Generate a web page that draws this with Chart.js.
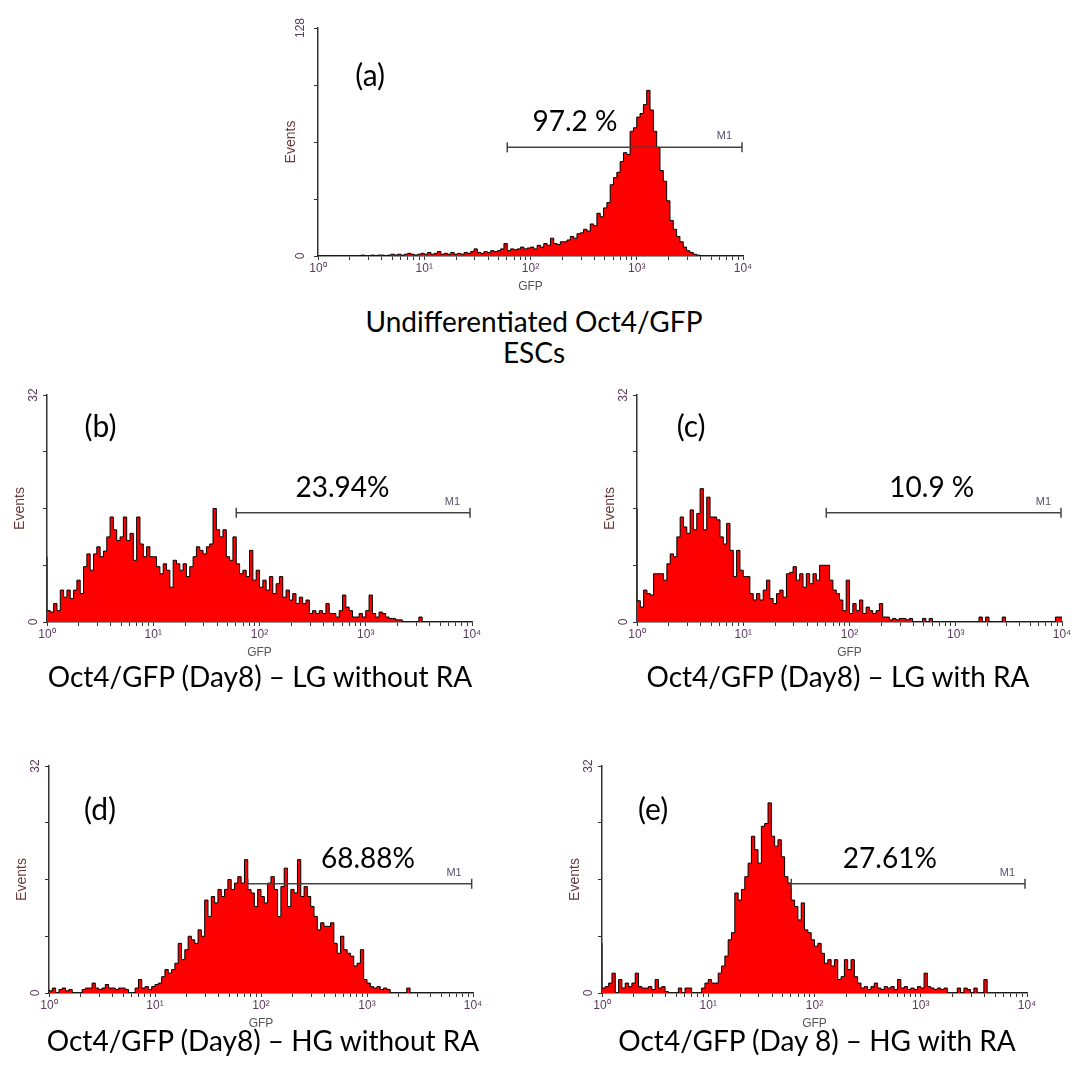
<!DOCTYPE html>
<html>
<head>
<meta charset="utf-8">
<script src="https://cdn.jsdelivr.net/npm/chart.js@4.4.1/dist/chart.umd.min.js"></script>
<style>
body { margin: 0; background: #fff; width: 1081px; height: 1068px; position: relative; overflow: hidden; font-family: Lato, "Open Sans", sans-serif; }
canvas { position: absolute; }
.cap { position: absolute; width: 600px; text-align: center; font-size: 28px; line-height: 31px; color: #000; }
</style>
</head>
<body>
<canvas id="chartA"></canvas>
<canvas id="chartB"></canvas>
<canvas id="chartC"></canvas>
<canvas id="chartD"></canvas>
<canvas id="chartE"></canvas>
<div class="cap" style="left:234px; top:306px;">Undifferentiated Oct4/GFP<br>ESCs</div>
<div class="cap" style="left:-40px; top:661px;">Oct4/GFP (Day8) – LG without RA</div>
<div class="cap" style="left:538px; top:661px;">Oct4/GFP (Day8) – LG with RA</div>
<div class="cap" style="left:-37px; top:1025px;">Oct4/GFP (Day8) – HG without RA</div>
<div class="cap" style="left:517px; top:1025px;">Oct4/GFP (Day 8) – HG with RA</div>
<script>
// GFP histograms, 128 log channels (32 per decade, 10^0 .. 10^4), events per channel
var countsA = [0,0,0,0,0,0,0,0,0,0,0,0,0,0,0.5,0,
  0,0.5,0,0.5,0.5,0,0.5,1,0.5,1,0.5,1,1.5,1,0.5,1,
  1.5,1,2,1,1.5,2.5,1,1.5,1,2,1,1.5,1,2,1.5,2.5,
  4,2,1.5,2.5,2,3,2.5,3,4,7,3,4,3.5,4,5,4,
  4.5,5,4,6,5,7,6,10,7,6.5,8,8,9,11,10,12.5,
  13,15,14,18,17,24,22,27,30,40,44,47,53,58,57,70,
  72,78,80,85,93,82,70,61,48,42,31,20,15,11,8,5,
  3,2,1,0.5,0,0,0,0,0,0,0,0,0,0,0,0];
var countsB = [9.2,1.6,1.4,2.6,1.6,4.5,3.5,4.5,3.3,4.5,5.9,4,7.8,9.6,7.3,9.6,
  10.6,9.2,10,12,14.8,13,11.5,12,14.8,11.5,12.5,8.7,14.8,11,9.2,10.6,
  9.2,9.2,7.8,6.8,8.2,7.3,4.9,8.7,8.2,7.3,8.2,6.4,7.8,9.2,10.6,10.1,
  9.6,10.6,11,16,13,12,13,9.2,8.7,12,8.2,6.8,7.3,6.4,10.1,5.9,
  7.3,4.9,5.9,4.5,6.4,4,5.4,6.4,3.5,4.5,3.1,4,2.6,3.5,2.6,3.1,
  1.2,1.6,1.2,1.6,1.2,2.6,1.2,1.2,0.7,1.6,3.8,2.1,1.6,0.7,0.7,1.2,
  0.7,1.6,3.8,1.2,0.7,1.4,1.2,0.7,0.5,0.5,0.3,0.3,0,0,0,0,
  0,0.7,0,0,0,0,0,0,0,0,0,0,0,0,0,0];
var countsC = [16,3,2.1,4.5,4,3.8,6.8,6.8,6.8,5.9,8.2,9.6,9.2,12,14.8,13.4,
  12.5,15.8,13,15.3,18.8,13,17.6,14.8,14.8,14.4,12,11,13.9,10.1,6.4,10.1,
  7.3,6.4,6.4,4,3.1,4,3.1,4.5,5.9,3.3,2.6,4,4.5,3.5,6.8,7,
  7.8,5.9,6.8,4.9,6.8,5.4,6.8,5.9,8,8,8,5.9,4.5,4,3.1,1.6,
  5.9,1.2,2.6,1.6,3.1,1.2,2.1,1.6,1.2,1.6,2.6,0.7,0.7,0.3,0.5,0.3,
  0.5,0.5,0.3,0.5,0,0,0,0.5,0,0.5,0,0,0,0,0,0,
  0,0,0,0,0,0,0,0,0.7,0,0.7,0,0,0,0,0.7,
  0,0,0,0,0,0,0,0,0,0,0,0,0,0,0,0.7];
var countsD = [0.5,0.3,0.7,0,0.5,0.7,0.3,0.5,0,0,0,0.5,0.7,0.7,1.4,0.7,
  0.5,0.7,1.2,0.7,0.7,0.5,0.7,0.7,0.5,0,0,0.7,1.9,0.7,0.9,0.5,
  0.9,1.2,1.4,2.3,3.3,2.8,3.3,4.2,7,4.7,6.1,8,7.5,7,8.9,8,
  13.1,10.8,13.6,12.7,14.6,13.6,14.6,16,14.6,15.5,16.4,15.5,18.8,14.6,14.1,12.2,
  14.6,13.6,12.7,15.5,16.4,14.6,10.8,15,17.6,12.2,14.6,14.1,18.8,13.6,15,13.6,
  12.2,10.8,8.9,9.9,9.4,9.4,9.9,7,5.6,8,6.1,5.6,5.2,3.8,4.2,6.1,
  1.9,1.4,0.9,0.7,0.9,0.5,0.7,0.5,0,0,0,0,0,0.7,0,0,
  0,0,0,0,0,0,0,0,0,0,0,0,0,0,0,0];
var countsE = [7,0.7,0.9,1.4,2.8,0,1.9,0.7,1.4,0.9,1.4,2.8,0.9,0.7,0.7,0.9,
  0.5,1.9,0.7,0.9,0.2,0,0,0,0.7,0,0.7,0.7,0,0,0,0.7,
  1.4,1.9,1.4,1.4,2.8,3.8,5.2,7.5,8.5,14.1,13.1,14.6,16.4,18.3,22.1,20.2,
  18.3,23.5,23.9,26.8,22.1,20.7,21.6,19.2,16.4,15.5,13.1,12.2,10.3,12.7,8.9,8.5,
  7.5,6.6,7,5.6,4.2,4.7,3.8,4.7,1.9,2.3,4.7,3.3,4.7,2.3,1.4,0.7,
  0.9,0.5,0.9,1.4,0.7,0.5,0.9,0.7,0.9,0.5,1.9,0.7,0.9,0.5,0.7,0.5,
  0.9,0.7,2.8,0.9,0.7,0.5,0.7,0.5,0.7,0,0,0,0.7,0,0.7,0.5,
  0,0.7,0,0,1.9,0,0,0,0,0,0,0,0,0,0,0];

var decadeLabels = ['10\u2070', '10\u00b9', '10\u00b2', '10\u00b3', '10\u2074'];
var yMax = [128, 32, 32, 32, 32];
var gateStart = [57, 57, 57, 60, 57];      // M1 marker, in channels
var gateEnd = [127.7, 127.4, 127.7, 127.6, 127.4];
var gateLevel = [61, 15.4, 15.4, 15.4, 15.4];
var gatePercent = ['97.2 %', '23.94%', '10.9 %', '68.88%', '27.61%'];
var panelLetters = ['(a)', '(b)', '(c)', '(d)', '(e)'];

// plot box in page pixels [left, top, right, bottom], text anchors in data units
var panels = [
  { id: 'chartA', counts: countsA, plot: [318, 28, 743, 256], letterAt: [15.7, 101], pctX: 77.4 },
  { id: 'chartB', counts: countsB, plot: [46.5, 395, 471.5, 622], letterAt: [16.1, 27.5], pctX: 89 },
  { id: 'chartC', counts: countsC, plot: [637, 395, 1062, 622], letterAt: [16.3, 27.5], pctX: 88.8 },
  { id: 'chartD', counts: countsD, plot: [49, 766, 473, 993], letterAt: [15.4, 25.8], pctX: 96.3 },
  { id: 'chartE', counts: countsE, plot: [602, 766, 1027, 993], letterAt: [15.4, 25.8], pctX: 86.7 }
];

var yW = 39, xH = 40, padL = 4, padT = 16, padR = 22, padB = 2;
var axisColor = '#333';

var textPlugin = {
  id: 'panelText',
  afterDatasetsDraw: function (chart, args, opts) {
    var ctx = chart.ctx, xs = chart.scales.x, ys = chart.scales.y;
    var gy = ys.getPixelForValue(gateLevel[opts.i]);
    ctx.save();
    ctx.fillStyle = '#000';
    ctx.textAlign = 'center';
    ctx.textBaseline = 'middle';
    ctx.font = '30px Lato';
    ctx.fillText(panelLetters[opts.i], xs.getPixelForValue(opts.letterAt[0]), ys.getPixelForValue(opts.letterAt[1]));
    ctx.font = '28px Lato';
    ctx.fillText(gatePercent[opts.i], xs.getPixelForValue(opts.pctX), gy - 25);
    ctx.font = '11px "Liberation Sans"';
    ctx.fillStyle = '#5a5070';
    ctx.textAlign = 'right';
    ctx.fillText('M1', xs.getPixelForValue(gateEnd[opts.i]) - 10, gy - 11);
    ctx.restore();
  }
};

panels.forEach(function (p, i) {
  var cv = document.getElementById(p.id);
  var w = (p.plot[2] - p.plot[0]) + yW + padL + padR;
  var h = (p.plot[3] - p.plot[1]) + xH + padT + padB;
  cv.width = Math.round(w);
  cv.height = Math.round(h);
  cv.style.left = Math.round(p.plot[0] - yW - padL) + 'px';
  cv.style.top = Math.round(p.plot[1] - padT) + 'px';

  var hist = p.counts.map(function (c, k) { return { x: k, y: c }; });
  hist.push({ x: p.counts.length, y: p.counts[p.counts.length - 1] });

  new Chart(cv.getContext('2d'), {
    type: 'line',
    data: {
      datasets: [
        {
          label: 'M1',
          data: [{ x: gateStart[i], y: gateLevel[i] }, { x: gateEnd[i], y: gateLevel[i] }],
          borderColor: '#444',
          borderWidth: 1.5,
          pointStyle: 'line',
          rotation: 90,
          pointRadius: 5,
          pointBorderColor: '#444',
          pointBorderWidth: 1.5,
          fill: false
        },
        {
          label: 'Events',
          data: hist,
          stepped: 'after',
          borderColor: '#000',
          borderWidth: 1,
          backgroundColor: '#ff0000',
          fill: 'origin',
          pointRadius: 0
        }
      ]
    },
    options: {
      responsive: false,
      animation: false,
      layout: { padding: { left: padL, top: padT, right: padR, bottom: padB } },
      plugins: {
        legend: { display: false },
        tooltip: { enabled: false },
        panelText: { i: i, letterAt: p.letterAt, pctX: p.pctX }
      },
      scales: {
        x: {
          type: 'linear',
          min: 0,
          max: 128,
          afterBuildTicks: function (scale) {
            var t = [];
            for (var d = 0; d < 4; d++) {
              for (var k = 1; k < 10; k++) t.push({ value: 32 * (d + Math.log10(k)) });
            }
            t.push({ value: 128 });
            scale.ticks = t;
          },
          afterFit: function (scale) { scale.height = xH; },
          grid: { drawOnChartArea: false, tickLength: 4, color: axisColor },
          border: { color: axisColor, width: 1.5 },
          ticks: {
            autoSkip: false,
            maxRotation: 0,
            padding: 1,
            color: '#5b3a5e',
            font: { family: 'Liberation Sans', size: 12 },
            callback: function (v) {
              var d = v / 32;
              return Number.isInteger(d) ? decadeLabels[d] : '';
            }
          },
          title: { display: true, text: 'GFP', color: '#555', font: { family: 'Liberation Sans', size: 12 }, padding: { top: 0, bottom: 2 } }
        },
        y: {
          min: 0,
          max: yMax[i],
          afterFit: function (scale) { scale.width = yW; },
          grid: { drawOnChartArea: false, tickLength: 4, color: axisColor },
          border: { color: axisColor, width: 1.5 },
          ticks: {
            stepSize: yMax[i] / 4,
            autoSkip: false,
            minRotation: 90,
            maxRotation: 90,
            crossAlign: 'center',
            padding: 3,
            color: '#5b3a5e',
            font: { family: 'Liberation Sans', size: 12 },
            callback: function (v) { return (v === 0 || v === yMax[i]) ? String(v) : ''; }
          },
          title: { display: true, text: 'Events', color: '#6b3a3a', font: { family: 'Liberation Sans', size: 14 }, padding: 4 }
        }
      }
    },
    plugins: [textPlugin]
  });
});
</script>
</body>
</html>
